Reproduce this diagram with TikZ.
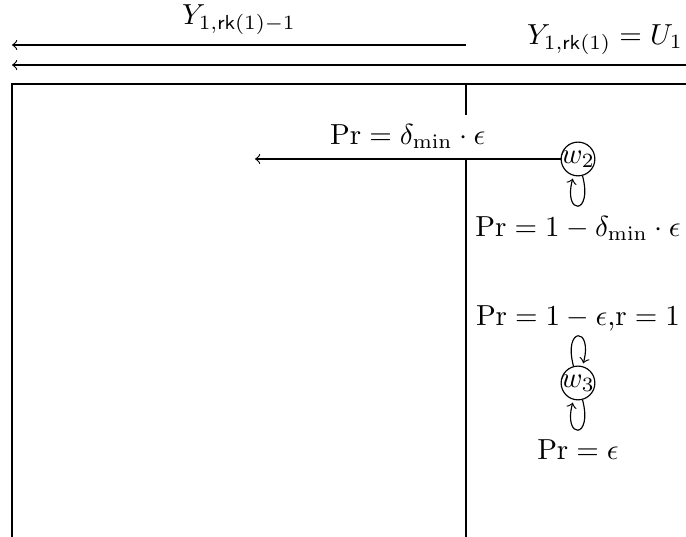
\documentclass[tikz,border=0pt]{standalone}
\usepackage{amsmath}
\usetikzlibrary{arrows}
\begin{document}
\begin{tikzpicture}[x=0.345pt,y=0.345pt,
  state/.style={draw,circle,inner sep=-0.5pt},
  >=to]
\useasboundingbox (0,0) rectangle (686,537);
\clip (0,0) rectangle (686,537);
% coordinates
\coordinate (a1s) at (466,492);
\coordinate (a1e) at (12,492);
\coordinate (a2s) at (1198,472);
\coordinate (a2e) at (12,472);
\coordinate (rbl) at (12,-10);
\coordinate (rtl) at (12,453);
\coordinate (rtr) at (1198,453);
\coordinate (vt) at (466,453);
\coordinate (vb) at (466,-10);
\coordinate (w2e) at (255,378);
% top arrows
\draw[->] (a1s) -- node[midway,above] (la1) {$Y_{1,\mathsf{rk}(1)-1}$} (a1e);
\draw[->] (a2s) -- node[midway,above] (la2) {$Y_{1,\mathsf{rk}(1)} = U_1$} (a2e);
% frame
\draw (rbl) -- (rtl) -- (rtr);
\draw (vt) -- (vb);
% states
\node[state] (w2) at (578,378) {$w_2$};
\node[state] (w3) at (578,154) {$w_3$};
\draw[->] (w2) -- node[midway,above,fill=white] (l1) {$\mathrm{Pr} = \delta_{\min}\cdot\epsilon$} (w2e);
\path[->] (w2) edge[loop below] node[below] (l2) {$\mathrm{Pr} = 1-\delta_{\min}\cdot\epsilon$} (w2);
\path[->] (w3) edge[loop above] node[above,inner sep=1.5pt] (l3) {$\mathrm{Pr} = 1-\epsilon$,$\mathrm{r}=1$} (w3);
\path[->] (w3) edge[loop below] node[below] (l4) {$\mathrm{Pr} = \epsilon$} (w3);
\end{tikzpicture}
\end{document}
